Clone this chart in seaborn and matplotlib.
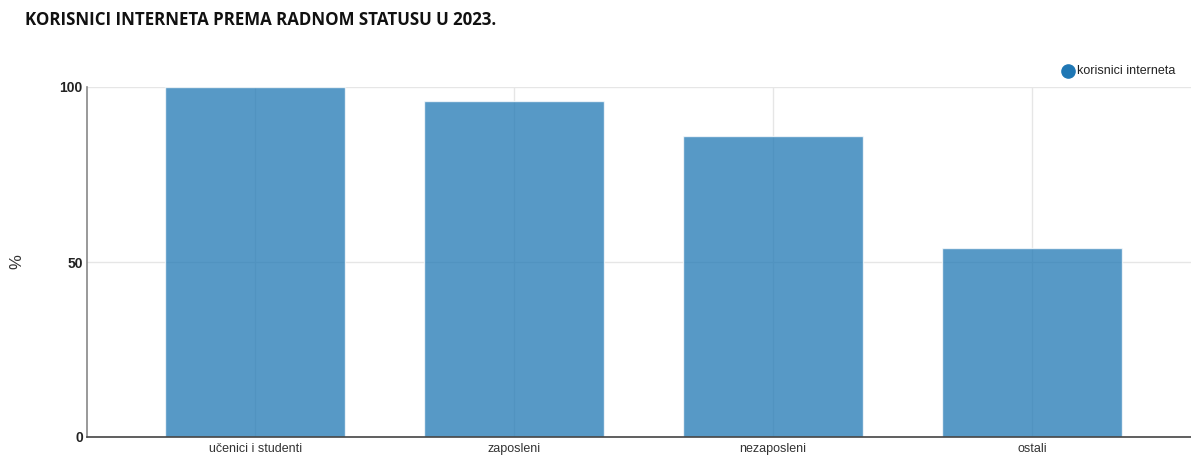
import matplotlib
matplotlib.use("Agg")
import matplotlib.pyplot as plt
import seaborn as sns
import pandas as pd

categories = ["učenici i studenti", "zaposleni", "nezaposleni", "ostali"]
values = [100, 96, 86, 54]
series_name = "korisnici interneta"
yticks = [0, 50, 100]

sns.set_theme(style="white")
plt.rcParams['font.family'] = ['Liberation Sans', 'DejaVu Sans']

df = pd.DataFrame({"kategorija": categories, "vrijednost": values})

fig = plt.figure(figsize=(11.91, 4.57), dpi=100)
ax = fig.add_axes([87/1191, 20/457, 1 - 87/1191, 350/457])

sns.barplot(data=df, x="kategorija", y="vrijednost", color="#1f77b4", alpha=0.75,
            width=0.695, ax=ax, saturation=1)

ax.set_ylim(0, 100)
ax.set_xlim(-0.65, 3.614)
ax.set_yticks(yticks)
ax.set_yticklabels([str(t) for t in yticks], fontsize=10, fontweight="bold", color="#222222")
ax.tick_params(axis="x", labelsize=9, colors="#333333", length=0, pad=4)
ax.tick_params(axis="y", length=0, pad=3)
ax.set_axisbelow(True)
ax.grid(True, axis="both", color="#e6e6e6", linewidth=1)

for s in ["top", "right"]:
    ax.spines[s].set_visible(False)
ax.spines["left"].set_color("#888888")
ax.spines["left"].set_linewidth(1.2)
ax.spines["bottom"].set_color("#444444")
ax.spines["bottom"].set_linewidth(1.2)

ax.set_xlabel("")
ax.set_ylabel("")
fig.text(17/1191, 1 - 262/457, "%", fontsize=12, color="#333333", rotation=90,
         va="center", ha="center")

fig.text(25/1191, 1 - 20/457, "KORISNICI INTERNETA PREMA RADNOM STATUSU U 2023.",
         fontsize=12.15, fontweight="bold", family=["Open Sans", "DejaVu Sans"],
         color="#111111", va="center", ha="left")

# legend
fig.lines.append(plt.Line2D([1068/1191], [1 - 71/457], marker="o", markersize=9.5,
                            color="#1f77b4", linestyle="none", transform=fig.transFigure))
fig.text(1077/1191, 1 - 71/457, series_name, fontsize=9, color="#222222", va="center", ha="left")

fig.savefig("out.png", dpi=100)
